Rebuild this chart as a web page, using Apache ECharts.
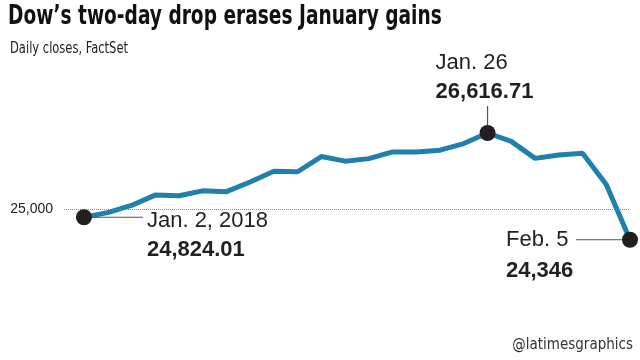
<!DOCTYPE html>
<html><head><meta charset="utf-8">
<script src="https://cdn.jsdelivr.net/npm/echarts@6/dist/echarts.min.js"></script>
<style>html,body{margin:0;padding:0;background:#fff}#c{width:640px;height:360px}</style>
</head><body><div id="c"></div>
<script>
const titleText = "Dow\u2019s two-day drop erases January gains";
const subtitleText = "Daily closes, FactSet";
const creditText = "@latimesgraphics";
const dates = ['Jan. 2, 2018','Jan. 3','Jan. 4','Jan. 5','Jan. 8','Jan. 9','Jan. 10','Jan. 11','Jan. 12','Jan. 16','Jan. 17','Jan. 18','Jan. 19','Jan. 22','Jan. 23','Jan. 24','Jan. 25','Jan. 26','Jan. 29','Jan. 30','Jan. 31','Feb. 1','Feb. 2','Feb. 5'];
const closes = [24824.01,24922.68,25075.13,25295.87,25283.00,25385.80,25369.13,25574.73,25803.19,25792.86,26115.65,26017.81,26071.72,26214.60,26210.81,26252.12,26392.79,26616.71,26439.48,26076.89,26149.39,26186.71,25520.96,24345.75];
const highlightIdx = [0, 17, 23];
const highlightValueLabels = ['24,824.01','26,616.71','24,346'];
const yTickValues = [25000];
const yTickLabels = ['25,000'];

const chart = echarts.init(document.getElementById('c'), null, {renderer:'canvas'});
const cond = "'DejaVu Sans Condensed',sans-serif";
const annFont = "'Liberation Sans',Arial,sans-serif";
const ink = '#231f20';

chart.setOption({
  animation:false,
  backgroundColor:'#fff',
  grid:{left:64,right:10,top:115,height:141},
  xAxis:{type:'value',min:-0.84,max:dates.length-1,show:false},
  yAxis:{type:'value',min:24000,max:27000,interval:1000,
    axisLine:{show:false},axisTick:{show:false},splitLine:{show:false},
    axisLabel:{margin:11,fontFamily:annFont,fontSize:14,color:'#222',
      formatter:v=>{const k=yTickValues.indexOf(v);return k>=0?yTickLabels[k]:'';}}},
  series:[
    {type:'line',data:closes.map((v,i)=>[i,v]),showSymbol:false,symbol:'none',
     lineStyle:{color:'#1f81ab',width:5},z:3,
     markLine:{silent:true,symbol:'none',label:{show:false},
       lineStyle:{type:'dotted',color:'#888',width:1},
       data:yTickValues.map(v=>({yAxis:v}))}},
    {type:'scatter',data:highlightIdx.map(i=>[i,closes[i]]),symbolSize:16,
     itemStyle:{color:ink,opacity:1},z:5}
  ]
});

const pts = highlightIdx.map(i=>chart.convertToPixel({gridIndex:0},[i,closes[i]]));
const lineStyle={stroke:'#555',lineWidth:1.2};
const txt=(x,y,t,bold,align)=>({type:'text',x:x,y:y,style:{text:t,fontFamily:annFont,fontSize:22,fontWeight:bold?'bold':'normal',fill:ink,align:align||'left',verticalAlign:'middle'},z:10});
const g=[];
g.push({type:'text',x:8,y:17,scaleX:0.795,style:{text:titleText,fontFamily:cond,fontSize:26,fontWeight:'bold',fill:'#111',align:'left',verticalAlign:'middle'},z:10});
g.push({type:'text',x:10,y:49,scaleX:0.8,style:{text:subtitleText,fontFamily:cond,fontSize:16,fill:'#222',align:'left',verticalAlign:'middle'},z:10});
g.push({type:'text',x:633,y:345,style:{text:creditText,fontFamily:cond,fontSize:15,fill:'#333',align:'right',verticalAlign:'middle'},z:10});
// Jan 2
let [x0,y0]=pts[0];
g.push({type:'line',shape:{x1:x0,y1:y0,x2:x0+59,y2:y0},style:lineStyle,z:4});
g.push(txt(x0+63,y0+4,dates[0],false));
g.push(txt(x0+63,y0+33,highlightValueLabels[0],true));
// Jan 26
let [x1,y1]=pts[1];
g.push({type:'line',shape:{x1:x1,y1:y1-27,x2:x1,y2:y1},style:lineStyle,z:4});
g.push(txt(x1-52,y1-70,dates[17],false));
g.push(txt(x1-52,y1-41,highlightValueLabels[1],true));
// Feb 5
let [x2,y2]=pts[2];
g.push({type:'line',shape:{x1:x2-54,y1:y2,x2:x2,y2:y2},style:lineStyle,z:4});
g.push(txt(x2-124,y2,dates[23],false));
g.push(txt(x2-124,y2+31,highlightValueLabels[2],true));
chart.setOption({graphic:g});
</script></body></html>
